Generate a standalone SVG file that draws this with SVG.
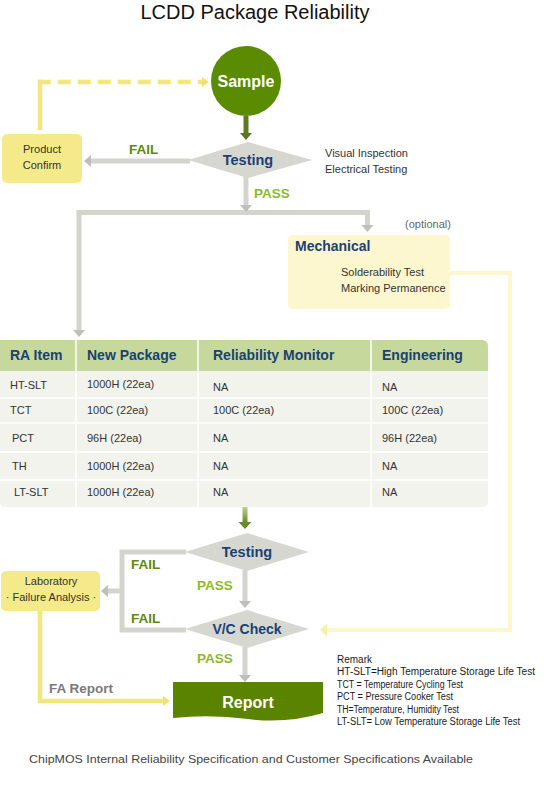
<svg xmlns="http://www.w3.org/2000/svg" width="555" height="805" viewBox="0 0 555 805">
<defs>
<style>
text{font-family:"Liberation Sans",Arial,sans-serif}
.t11{font-size:11px;fill:#333}
.blue{fill:#1b4172;font-weight:bold}
.fail{font-size:13.5px;font-weight:bold;fill:#5c8a0a}
.pass{font-size:13.5px;font-weight:bold;fill:#8cba2c}
.gl{fill:none;stroke:#d4d4cf;stroke-width:5}
.dia{fill:#d6d7d0}
.ybox{fill:#f5ea8a}
.rem{font-size:10px;fill:#1a1a1a}
.hd{font-size:14px}
.sep{stroke:#ffffff;stroke-width:1.5}
</style>
<marker id="ag" markerUnits="userSpaceOnUse" viewBox="0 -7 8 14" markerWidth="8" markerHeight="14" refX="0" refY="0" orient="auto"><path d="M0,-6L7,0L0,6z" fill="#bebfba"/></marker>
<marker id="ay" markerUnits="userSpaceOnUse" viewBox="0 -7 8 14" markerWidth="8" markerHeight="14" refX="0" refY="0" orient="auto"><path d="M0,-5L7,0L0,5z" fill="#f0e272"/></marker>
<marker id="ap" markerUnits="userSpaceOnUse" viewBox="0 -7 8 14" markerWidth="8" markerHeight="14" refX="0" refY="0" orient="auto"><path d="M0,-6.5L7,0L0,6.5z" fill="#f7eea8"/></marker>
<marker id="ad" markerUnits="userSpaceOnUse" viewBox="0 -7 8 14" markerWidth="8" markerHeight="14" refX="0" refY="0" orient="auto"><path d="M0,-6L7,0L0,6z" fill="#5a7420"/></marker>
<linearGradient id="gg" x1="0" y1="0" x2="0" y2="1"><stop offset="0" stop-color="#bcd08e"/><stop offset="1" stop-color="#6c8c2c"/></linearGradient>
</defs>

<g id="title"><text x="255" y="19" text-anchor="middle" font-size="20" fill="#111">LCDD Package Reliability</text></g>

<g id="connectors">
<path d="M246,116V133" stroke="#5e7a1e" stroke-width="5" fill="none" marker-end="url(#ad)"/>
<path d="M40,130V79.75" stroke="#f3e67c" stroke-width="4.5" fill="none"/>
<path d="M37.75,82H202" stroke="#f3e67c" stroke-width="4.5" fill="none" stroke-dasharray="13 7" marker-end="url(#ay)"/>
<path d="M190,161H91" class="gl" marker-end="url(#ag)"/>
<path d="M367.5,225V212.5H79V330" class="gl" marker-end="url(#ag)"/>
<path d="M367.5,212.5V225" class="gl" marker-end="url(#ag)"/>
<path d="M246,176V205" class="gl" marker-end="url(#ag)"/>
<path d="M450,273H510V630H327" stroke="#fdf7cc" stroke-width="4" fill="none" marker-end="url(#ap)"/>
<rect x="242.5" y="507" width="5" height="15" fill="url(#gg)"/>
<polygon points="238.5,522 251.5,522 245,529" fill="#6a8a2a"/>
<path d="M186,552H122V630H186" class="gl"/>
<path d="M122,591H108" class="gl" marker-end="url(#ag)"/>
<path d="M245,570V601" class="gl" marker-end="url(#ag)"/>
<path d="M245,647V675" class="gl" marker-end="url(#ag)"/>
<path d="M40,611V701H163" stroke="#f3e67f" stroke-width="4.5" fill="none" marker-end="url(#ay)"/>
<text x="129" y="154" class="fail">FAIL</text>
<text x="254" y="198" class="pass">PASS</text>
<text x="131" y="569" class="fail">FAIL</text>
<text x="131" y="623" class="fail">FAIL</text>
<text x="197" y="590" class="pass">PASS</text>
<text x="197" y="663" class="pass">PASS</text>
<text x="49" y="693" font-size="13.5" font-weight="bold" fill="#7a7a7a">FA Report</text>
</g>

<g id="sample">
<circle cx="246" cy="81" r="35" fill="#5b8b00"/>
<text x="246" y="87" text-anchor="middle" font-size="16" font-weight="bold" fill="#fff">Sample</text>
</g>

<g id="testing1">
<polygon points="188,160 248,142 312,160 248,178" class="dia"/>
<text x="248" y="165" text-anchor="middle" font-size="14.5" class="blue">Testing</text>
</g>

<g id="testing1-note">
<text x="325" y="157" class="t11">Visual Inspection</text>
<text x="325" y="173" class="t11">Electrical Testing</text>
</g>

<g id="product-confirm">
<rect x="2" y="134" width="80" height="49" rx="5" class="ybox"/>
<text x="42" y="153" text-anchor="middle" class="t11">Product</text>
<text x="42" y="169" text-anchor="middle" class="t11">Confirm</text>
</g>

<g id="mechanical">
<text x="405" y="228" font-size="11" fill="#666">(optional)</text>
<rect x="288" y="235" width="162" height="74" rx="5" fill="#fcf7cf"/>
<text x="295" y="251" font-size="14" class="blue">Mechanical</text>
<text x="341" y="276" class="t11">Solderability Test</text>
<text x="341" y="292" class="t11">Marking Permanence</text>
</g>

<g id="ra-table">
<path d="M0,340H482Q488,340 488,346V371H0Z" fill="#c6d89b"/>
<path d="M0,371H488V501Q488,507 482,507H5Q0,507 0,502Z" fill="#f2f3ec"/>
<line x1="0" y1="398" x2="488" y2="398" class="sep"/>
<line x1="0" y1="423" x2="488" y2="423" class="sep"/>
<line x1="0" y1="452" x2="488" y2="452" class="sep"/>
<line x1="0" y1="480" x2="488" y2="480" class="sep"/>
<line x1="76" y1="340" x2="76" y2="507" class="sep"/>
<line x1="198" y1="340" x2="198" y2="507" class="sep"/>
<line x1="371" y1="340" x2="371" y2="507" class="sep"/>
<text x="10" y="360" class="blue hd">RA Item</text>
<text x="87" y="360" class="blue hd">New Package</text>
<text x="213" y="360" class="blue hd">Reliability Monitor</text>
<text x="382" y="360" class="blue hd">Engineering</text>
<text x="10" y="389" class="t11">HT-SLT</text>
<text x="87" y="388" class="t11">1000H (22ea)</text>
<text x="213" y="391" class="t11">NA</text>
<text x="382" y="391" class="t11">NA</text>
<text x="10" y="414" class="t11">TCT</text>
<text x="87" y="414" class="t11">100C (22ea)</text>
<text x="213" y="414" class="t11">100C (22ea)</text>
<text x="382" y="414" class="t11">100C (22ea)</text>
<text x="12" y="442" class="t11">PCT</text>
<text x="87" y="442" class="t11">96H (22ea)</text>
<text x="213" y="442" class="t11">NA</text>
<text x="382" y="442" class="t11">96H (22ea)</text>
<text x="12" y="470" class="t11">TH</text>
<text x="87" y="470" class="t11">1000H (22ea)</text>
<text x="213" y="470" class="t11">NA</text>
<text x="382" y="470" class="t11">NA</text>
<text x="14" y="496" class="t11">LT-SLT</text>
<text x="87" y="496" class="t11">1000H (22ea)</text>
<text x="213" y="496" class="t11">NA</text>
<text x="382" y="496" class="t11">NA</text>
</g>

<g id="testing2">
<polygon points="185,552 247,533 309,552 247,571" class="dia"/>
<text x="247" y="557" text-anchor="middle" font-size="14.5" class="blue">Testing</text>
</g>

<g id="laboratory">
<rect x="1" y="571" width="99" height="40" rx="5" class="ybox"/>
<text x="51" y="585" text-anchor="middle" class="t11">Laboratory</text>
<text x="51" y="601" text-anchor="middle" class="t11">· Failure Analysis ·</text>
</g>

<g id="vc-check">
<polygon points="185,629 247,610 309,629 247,648" class="dia"/>
<text x="247" y="634" text-anchor="middle" font-size="14" class="blue">V/C Check</text>
</g>

<g id="report">
<path d="M173,682H323V713Q286,724 248,719Q210,714 173,718Z" fill="#5a8300"/>
<text x="248" y="708" text-anchor="middle" font-size="16" font-weight="bold" fill="#fff">Report</text>
</g>

<g id="remarks">
<text x="337" y="663" class="rem">Remark</text>
<text x="337" y="675" class="rem" textLength="198" lengthAdjust="spacingAndGlyphs">HT-SLT=High Temperature Storage Life Test</text>
<text x="337" y="688" class="rem" textLength="126" lengthAdjust="spacingAndGlyphs">TCT = Temperature Cycling Test</text>
<text x="337" y="700" class="rem" textLength="116" lengthAdjust="spacingAndGlyphs">PCT = Pressure Cooker Test</text>
<text x="337" y="713" class="rem" textLength="122" lengthAdjust="spacingAndGlyphs">TH=Temperature, Humidity Test</text>
<text x="337" y="725" class="rem" textLength="183" lengthAdjust="spacingAndGlyphs">LT-SLT= Low Temperature Storage Life Test</text>
</g>

<g id="footer">
<text x="29" y="763" font-size="11" fill="#444" textLength="444" lengthAdjust="spacingAndGlyphs">ChipMOS Internal Reliability Specification and Customer Specifications Available</text>
</g>
</svg>
